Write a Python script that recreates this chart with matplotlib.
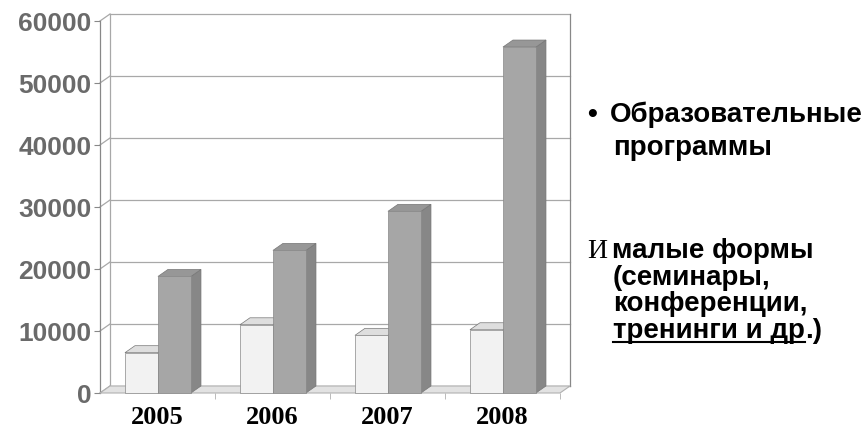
import matplotlib
matplotlib.use("Agg")
import matplotlib.pyplot as plt
from matplotlib.patches import Polygon, Rectangle

# data
years = ["2005", "2006", "2007", "2008"]
small_forms = [6500, 11000, 9300, 10200]      # light bars
programs = [18800, 23000, 29300, 55800]       # dark bars
yticks = [0, 10000, 20000, 30000, 40000, 50000, 60000]

# 3d look: depth offset in data units
dx = 0.087
dy = 1130

fig = plt.figure(figsize=(8.66, 4.35), dpi=100)
ax = fig.add_axes([100 / 866, 41 / 435, 460 / 866, 372 / 435])
ax.set_xlim(0, 4)
ax.set_ylim(0, 60000)
for s in ax.spines.values():
    s.set_visible(False)

grid_c = "#a8a8a8"

# back wall gridlines and connectors to the front axis
for v in yticks:
    ax.plot([dx, 4 + dx], [v + dy, v + dy], color=grid_c, lw=0.9, clip_on=False, zorder=1)
    ax.plot([0, dx], [v, v + dy], color=grid_c, lw=0.9, clip_on=False, zorder=1)
ax.plot([dx, dx], [dy, 60000 + dy], color=grid_c, lw=0.9, clip_on=False, zorder=1)
ax.plot([4 + dx, 4 + dx], [dy, 60000 + dy], color="#888888", lw=0.9, clip_on=False, zorder=1)
ax.plot([0, 0], [0, 60000], color="#888888", lw=0.9, clip_on=False, zorder=1)

# floor
floor = Polygon([(0, 0), (4, 0), (4 + dx, dy), (dx, dy)], closed=True,
                facecolor="#e2e2e2", edgecolor="#b0b0b0", lw=0.8, clip_on=False, zorder=2)
ax.add_patch(floor)


def bar3d(x, w, v, front, top, side):
    ax.add_patch(Polygon([(x + w, 0), (x + w + dx, dy), (x + w + dx, v + dy), (x + w, v)],
                         closed=True, facecolor=side, edgecolor="#777777", lw=0.5,
                         clip_on=False, zorder=3))
    ax.add_patch(Polygon([(x, v), (x + w, v), (x + w + dx, v + dy), (x + dx, v + dy)],
                         closed=True, facecolor=top, edgecolor="#777777", lw=0.5,
                         clip_on=False, zorder=3))
    ax.add_patch(Rectangle((x, 0), w, v, facecolor=front, edgecolor="#888888", lw=0.5,
                           clip_on=False, zorder=4))


w = 0.287
for i in range(len(years)):
    bar3d(i + 0.217, w, small_forms[i], "#f2f2f2", "#dedede", "#cfcfcf")
    bar3d(i + 0.504, w, programs[i], "#a6a6a6", "#979797", "#878787")

ax.set_yticks(yticks)
ax.set_yticklabels([str(v) for v in yticks], fontsize=19, fontweight="bold",
                   color="#6a6a6a", family="Liberation Sans")
ax.tick_params(axis="y", length=4, width=0.8, color="#888888", pad=2)

ax.set_xticks([0.5, 1.5, 2.5, 3.5])
ax.set_xticklabels(years, fontsize=19, fontweight="bold", family="Liberation Serif")
ax.set_xticks([1, 2, 3, 4], minor=True)
ax.tick_params(axis="x", which="major", length=0, pad=9)
ax.tick_params(axis="x", which="minor", length=4, color="#b0b0b0")

# text on the right
sans = dict(fontsize=20, fontweight="bold", family="Liberation Sans", color="black",
            va="center", ha="left")
fig.text(587 / 866, 1 - 115 / 435, "•", **sans)
fig.text(610 / 866, 1 - 115 / 435, "Образовательные", **sans)
fig.text(613 / 866, 1 - 148 / 435, "программы", **sans)
fig.text(587 / 866, 1 - 251 / 435, "И", fontsize=20, family="Liberation Serif",
         color="black", va="center", ha="left")
fig.text(612 / 866, 1 - 251 / 435, "малые формы", **sans)
fig.text(613 / 866, 1 - 278 / 435, "(семинары,", **sans)
fig.text(613 / 866, 1 - 304 / 435, "конференции,", **sans)
t = fig.text(613 / 866, 1 - 331 / 435, "тренинги и др", **sans)
t2 = fig.text(0, 1 - 331 / 435, ".)", **sans)

fig.canvas.draw()
r = fig.canvas.get_renderer()
bb = t.get_window_extent(r)
t2.set_x(bb.x1 / 866)
fig.add_artist(plt.Line2D([bb.x0 / 866, bb.x1 / 866], [(bb.y0 + 1) / 435, (bb.y0 + 1) / 435],
                          color="black", lw=1.5))

fig.savefig("out.png", dpi=100, facecolor="white")
